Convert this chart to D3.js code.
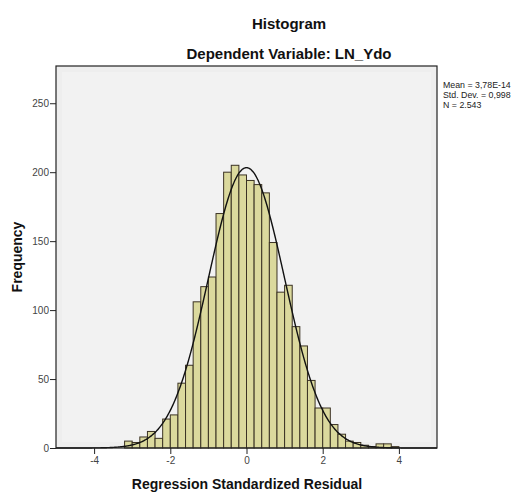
<!DOCTYPE html>
<html><head><meta charset="utf-8">
<script src="https://cdn.jsdelivr.net/npm/d3@7"></script>
<style>body{margin:0;background:#fff}svg{display:block}</style>
</head><body>
<script>
const binLower = [-3.2,-3.0,-2.8,-2.6,-2.4,-2.2,-2.0,-1.8,-1.6,-1.4,-1.2,-1.0,-0.8,-0.6,-0.4,-0.2,
                  0.0,0.2,0.4,0.6,0.8,1.0,1.2,1.4,1.6,1.8,2.0,2.2,2.4,2.6,2.8,3.0,3.2,3.4,3.6,3.8];
const counts   = [5,4,8,12,7,21,24,47,60,106,117,124,170,200,205,198,
                  194,191,185,149,113,118,88,74,49,29,29,17,10,5,4,2,1,3,3,1];
const binWidth = 0.2;
const xTicks = [-4,-2,0,2,4];
const yTicks = [0,50,100,150,200,250];
const statMean = 3.78e-14, statSD = 0.998, statN = 2543;
const statLines = ["Mean = 3,78E-14","Std. Dev. = 0,998","N = 2.543"];

const W=524,H=492;
const svg=d3.select("body").append("svg").attr("width",W).attr("height",H);
const L=56,R=437,T=66,B=448;
const x=d3.scaleLinear().domain([-5,5]).range([L,R]);
const y=d3.scaleLinear().domain([0,277]).range([B,T]);

svg.append("rect").attr("x",L).attr("y",T).attr("width",R-L).attr("height",B-T).attr("fill","#eeeeee");
svg.append("rect").attr("x",L+6).attr("y",T+6).attr("width",R-L-12).attr("height",B-T-12).attr("fill","#f2f2f2");

svg.append("g").selectAll("rect").data(binLower).join("rect")
  .attr("x",d=>x(d)).attr("width",d=>x(d+binWidth)-x(d))
  .attr("y",(d,i)=>y(counts[i])).attr("height",(d,i)=>y(0)-y(counts[i]))
  .attr("fill","#dbd99d").attr("stroke","#3b3224").attr("stroke-width",1);

const pts=d3.range(-5,5.0001,0.02).map(v=>[v,statN*binWidth*Math.exp(-0.5*((v-statMean)/statSD)**2)/(statSD*Math.sqrt(2*Math.PI))]);
svg.append("path").datum(pts).attr("fill","none").attr("stroke","#111").attr("stroke-width",1.4)
  .attr("d",d3.line().x(d=>x(d[0])).y(d=>y(d[1])).curve(d3.curveBasis));

svg.append("rect").attr("x",L).attr("y",T).attr("width",R-L).attr("height",B-T)
  .attr("fill","none").attr("stroke","#222").attr("stroke-width",1.2);

const xa=svg.append("g").attr("transform",`translate(0,${B})`)
  .call(d3.axisBottom(x).tickValues(xTicks).tickSize(6).tickFormat(d3.format("d")));
const ya=svg.append("g").attr("transform",`translate(${L},0)`)
  .call(d3.axisLeft(y).tickValues(yTicks).tickSize(6).tickPadding(1));
[xa,ya].forEach(a=>{a.select(".domain").remove();
  a.selectAll("line").attr("stroke","#222");
  a.selectAll("text").attr("font-family","Arial, 'Liberation Sans', sans-serif").attr("font-size",10).attr("fill","#444");});
xa.selectAll("text").text(d=>d<0?"-"+Math.abs(d):d);

const F="Arial, 'Liberation Sans', sans-serif";
svg.append("text").attr("x",289).attr("y",29).attr("text-anchor","middle").attr("font-family",F)
  .attr("font-weight","bold").attr("font-size",15).attr("fill","#111").text("Histogram");
svg.append("text").attr("x",289).attr("y",59).attr("text-anchor","middle").attr("font-family",F)
  .attr("font-weight","bold").attr("font-size",15).attr("fill","#111").text("Dependent Variable: LN_Ydo");
svg.append("text").attr("x",247).attr("y",489).attr("text-anchor","middle").attr("font-family",F)
  .attr("font-weight","bold").attr("font-size",14).attr("fill","#111").text("Regression Standardized Residual");
svg.append("text").attr("transform","translate(22,257) rotate(-90)").attr("text-anchor","middle").attr("font-family",F)
  .attr("font-weight","bold").attr("font-size",14).attr("fill","#111").text("Frequency");
svg.append("g").selectAll("text").data(statLines).join("text")
  .attr("x",443).attr("y",(d,i)=>88+i*10).attr("font-family",F).attr("font-size",8.8).attr("fill","#222").text(d=>d);
</script>
</body></html>
